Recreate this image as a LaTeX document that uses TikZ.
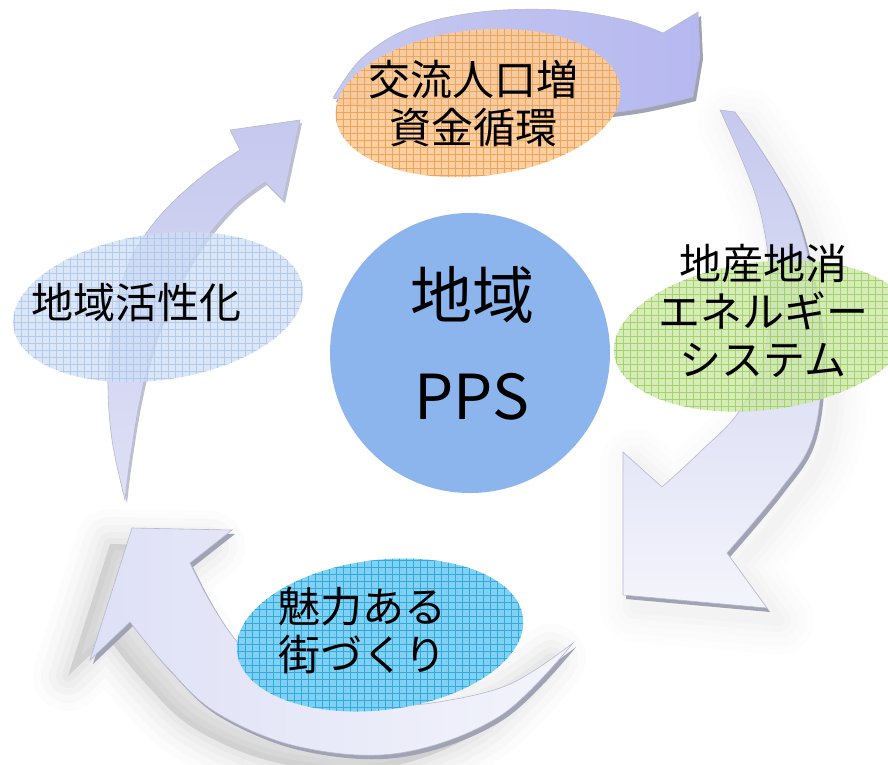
\documentclass[tikz,border=0pt]{standalone}
\usepackage{fontspec}
\setmainfont{Noto Sans CJK JP}
\usetikzlibrary{calc}
\definecolor{lav}{RGB}{198,201,238}
\definecolor{lavlight}{RGB}{222,224,246}
\definecolor{nearwhite}{RGB}{243,244,251}
\definecolor{edgegrey}{RGB}{160,163,180}
\definecolor{edgelight}{RGB}{190,192,210}
\definecolor{outl}{RGB}{182,185,206}
\definecolor{circfill}{RGB}{140,181,238}
\definecolor{orfill}{RGB}{250,205,155}
\definecolor{orgrid}{RGB}{243,160,80}
\definecolor{grfill}{RGB}{205,232,168}
\definecolor{grgrid}{RGB}{150,205,90}
\definecolor{cyfill}{RGB}{120,206,242}
\definecolor{cygrid}{RGB}{40,168,225}
\definecolor{pbfill}{RGB}{208,224,245}
\definecolor{pbgrid}{RGB}{165,194,234}
\newcommand\gellipse[8]{%
  \begin{scope}
    \clip[rotate around={#5:(#1,#2)}] (#1,#2) ellipse [x radius=#3, y radius=#4];
    \fill[#6, fill opacity=#8] (#1-#3-20,#2-#4-60) rectangle (#1+#3+20,#2+#4+60);
    \draw[#7, line width=0.55, opacity=#8, step=7pt] (#1-#3-20,#2+#4+60) grid (#1+#3+20,#2-#4-60);
  \end{scope}}
\tikzset{
  toppath/.style={insert path={
    plot[smooth, tension=0.6] coordinates {(333,98) (362,58) (410,28) (480,12) (560,10) (625,20) (663,33)}
    -- (698,12) -- (700,55) -- (693,97)
    -- plot[smooth, tension=0.6] coordinates {(693,97) (633,110) (560,117) (480,118) (410,112) (360,104) (333,98)} -- cycle}},
  rightpath/.style={insert path={
    plot[smooth, tension=0.6] coordinates {(735,112) (790,200) (815,290) (822,367) (812,440) (780,490) (727,553)}
    -- (767,608) -- (623,595) -- (623,452) -- (662,487)
    -- plot[smooth, tension=0.6] coordinates {(662,487) (700,452) (740,410) (765,350) (770,280) (757,200) (720,110)} -- cycle}},
  botpath/.style={insert path={
    plot[smooth, tension=0.6] coordinates {(573,643) (535,670) (500,688) (450,700) (400,705) (330,697) (280,680) (240,645) (212,605) (190,563)}
    -- (232,530) -- (132,528) -- (90,660) -- (130,622)
    -- plot[smooth, tension=0.6] coordinates {(130,622) (167,667) (217,713) (300,747) (400,753) (500,716) (573,643)} -- cycle}},
  leftpath/.style={insert path={
    plot[smooth, tension=0.6] coordinates {(125,500) (112,440) (108,380) (113,320) (128,265) (150,228) (177,198) (210,170) (240,150)}
    -- (230,130) -- (300,120) -- (283,200) -- (265,182)
    -- plot[smooth, tension=0.6] coordinates {(265,182) (235,205) (205,240) (178,285) (155,340) (140,400) (130,460) (125,500)} -- cycle}},
  lbl/.style={inner sep=0pt, align=center, font=\fontsize{42}{48}\selectfont},
  bigl/.style={inner sep=0pt, font=\fontsize{62}{62}\selectfont}
}
\begin{document}
\begin{tikzpicture}[x=1pt,y=-1pt]
\useasboundingbox (0,0) rectangle (888,764);
\fill[white] (0,0) rectangle (888,764);
% soft shadows
\foreach \w/\o in {70/0.012,54/0.015,38/0.018,24/0.02,12/0.025} {
  \begin{scope}[shift={(-22,16)}]
    \fill[black, opacity=\o, botpath];
    \draw[line width=\w, line join=round, black, opacity=\o, botpath];
  \end{scope}
  \begin{scope}[shift={(12,12)}]
    \draw[line width=\w, line join=round, black, opacity=\o*0.5, rightpath];
  \end{scope}
}
% extrusions
\begin{scope}[shift={(3,4)}]
  \fill[edgegrey, toppath];
  \fill[edgegrey, rightpath];
  \fill[edgegrey, botpath];
\end{scope}
\begin{scope}[shift={(2,3)}]
  \fill[edgelight, leftpath];
\end{scope}
% arrows
\shade[left color=lav, right color=lav!90!blue!95!white, draw=outl, line width=0.6, toppath];
\shade[top color=lav, bottom color=nearwhite, draw=outl, line width=0.6, rightpath];
\shade[left color=lavlight, right color=nearwhite, draw=outl, line width=0.6, botpath];
\shade[top color=lav, bottom color=lavlight, draw=outl, line width=0.6, leftpath];
% center circle
\fill[circfill] (470,353) circle [radius=140];
% ellipses
\gellipse{478}{103}{143}{73}{6}{orfill}{orgrid}{0.92}
\gellipse{763}{336}{150}{74}{7}{grfill}{grgrid}{0.8}
\gellipse{380}{635}{144}{75}{7}{cyfill}{cygrid}{0.92}
\gellipse{158}{307}{146}{73}{8}{pbfill}{pbgrid}{0.75}
% texts
\node[lbl] (t1) at (473,104) {交流人口増\\資金循環};
\node[lbl] (t2) at (763,311) {地産地消\\エネルギー\\システム};
\node[lbl] (t3) at (362,630) {魅力ある\\街づくり};
\node[lbl] (t4) at (136,303) {地域活性化};
\node[bigl] (c1) at (472,295) {地域};
\node[bigl] (c2) at (472,397) {PPS};
\end{tikzpicture}
\end{document}
